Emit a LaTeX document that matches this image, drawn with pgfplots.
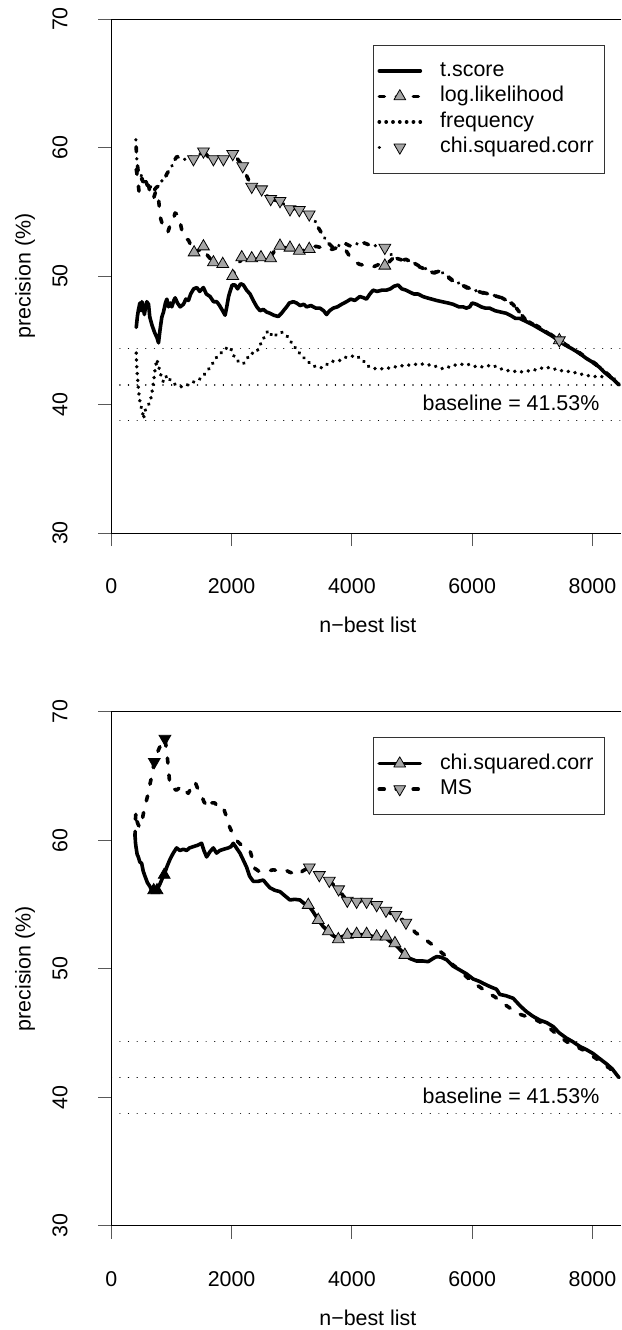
\documentclass[border=0pt]{standalone}
\usepackage{fontspec}
\setmainfont{Liberation Sans}
\usepackage{graphicx}
\usepackage{pgfplots}
\pgfplotsset{compat=1.18}
\definecolor{tri}{RGB}{166,166,166}
\newcommand\fsz{\fontsize{10.7}{12.8}\selectfont}
\pgfplotsset{
  rpanel/.style={
    scale only axis, width=255pt, height=257pt, anchor=north west,
    xmin=0, xmax=8480, ymin=30, ymax=70,
    axis x line*=bottom, axis y line*=left,
    axis line style={-, line width=0.5pt},
    xtick={0,2000,4000,6000,8000}, ytick={30,40,50,60,70},
    tick align=outside, major tick length=6.5pt,
    tick style={line width=0.5pt, black!65},
    /pgf/number format/assume math mode=true,
    /pgf/number format/1000 sep={},
    scaled ticks=false,
    font=\fsz,
    xticklabel style={anchor=center, yshift=-20pt, inner sep=0pt, font=\fsz},
    yticklabel={\rotatebox{90}{\pgfmathprintnumber{\tick}}},
    yticklabel style={anchor=center, xshift=-19.15pt, inner sep=0pt, font=\fsz},
    xlabel={n−best list},
    ylabel={precision (\%)},
    xlabel style={at={(rel axis cs:0.503,-0.179)}, anchor=center, inner sep=0pt, font=\fsz},
    ylabel style={at={(rel axis cs:-0.169,0.5)}, anchor=center, inner sep=0pt, font=\fsz},
    legend cell align=left,
    legend image code/.code={\draw[mark repeat=2,mark phase=2,##1] plot coordinates {(0pt,0pt) (10.25pt,0pt) (20.5pt,0pt)};},
    legend style={at={(rel axis cs:0.513,0.95)}, anchor=north west, draw=black!80,
      line width=0.5pt, font=\fsz, inner xsep=2pt, inner ysep=7.9pt, row sep=2.85pt,
      column sep=9pt, nodes={inner sep=0pt, text height=7.7pt, text depth=2.2pt, text width=80pt}},
    after end axis/.code={\draw[line width=0.5pt] (rel axis cs:0,1) -- (rel axis cs:1,1);},
  },
  base/.style={black, line width=0.6pt, line cap=round, dash pattern=on 0.01pt off 4.3pt},
  tsc/.style={black, line width=1.8pt, line join=round, line cap=round},
  llk/.style={black, line width=1.8pt, line join=round, line cap=round, dash pattern=on 2.5pt off 6pt},
  frq/.style={black, line width=1.9pt, line cap=round, dash pattern=on 0.01pt off 3.4pt},
  chi/.style={black, line width=1.8pt, line join=round, line cap=round, dash pattern=on 0.01pt off 3.5pt on 2.5pt off 3.5pt},
  upm/.style={only marks, mark=triangle*, mark size=3.4pt, mark options={solid, fill=tri, draw=black, line width=0.4pt}},
  dnm/.style={only marks, mark=triangle*, mark size=3.4pt, mark options={solid, rotate=180, fill=tri, draw=black, line width=0.4pt}},
}
\begin{document}
\begin{tikzpicture}
\path[use as bounding box] (0,0) rectangle (311pt,-665pt);

% ---------------- top panel ----------------
\begin{axis}[rpanel, at={(55.65pt,-9.5pt)}]
\addlegendimage{tsc}\addlegendentry{t.score}
\addlegendimage{llk, mark=triangle*, mark size=3.4pt, mark options={solid, fill=tri, draw=black, line width=0.4pt}}\addlegendentry{log.likelihood}
\addlegendimage{frq}\addlegendentry{frequency}
\addlegendimage{chi, dash pattern=on 0.01pt off 30pt, mark=triangle*, mark size=3.4pt, mark options={solid, rotate=180, fill=tri, draw=black, line width=0.4pt}}\addlegendentry{chi.squared.corr}

\addplot[base, forget plot] coordinates {(0,44.35) (8480,44.35)};
\addplot[base, line width=0.8pt, forget plot] coordinates {(0,41.53) (8480,41.53)};
\addplot[base, forget plot] coordinates {(0,38.75) (8480,38.75)};

% frequency
\addplot[frq, forget plot] coordinates {
(415,44.0) (420,43.2) (426,42.7) (440,41.9) (453,41.1) (467,40.5) (481,40.1) (495,39.8)
(509,39.7) (522,39.3) (536,38.9) (560,39.5) (592,39.8) (620,40.0) (647,40.2) (675,40.9)
(702,41.75) (730,42.8) (758,43.5) (785,43.0) (813,42.5) (840,42.0) (868,41.75) (896,42.0)
(924,42.27) (965,42.0) (1006,41.75) (1050,41.6) (1090,41.5) (1145,41.4) (1200,41.36)
(1255,41.5) (1311,41.63) (1390,41.8) (1477,42.0) (1560,42.4) (1643,42.9) (1700,43.3)
(1754,43.7) (1820,44.0) (1892,44.34) (1975,44.47) (2020,44.0) (2058,43.56) (2130,43.3)
(2196,43.17) (2250,43.5) (2307,43.95) (2360,44.0) (2418,44.07) (2470,44.6) (2528,45.1)
(2570,45.5) (2611,45.76) (2650,45.5) (2694,45.24) (2760,45.5) (2833,45.63) (2870,45.5)
(2916,45.37) (2970,45.0) (3026,44.6) (3080,44.3) (3137,43.95) (3190,43.7) (3247,43.43)
(3330,43.1) (3413,42.9) (3470,42.85) (3524,42.9) (3580,43.1) (3635,43.3) (3720,43.4)
(3801,43.43) (3860,43.6) (3911,43.7) (3990,43.75) (4078,43.8) (4130,43.6) (4188,43.43)
(4240,43.1) (4299,42.9) (4380,42.8) (4465,42.78) (4570,42.8) (4686,42.9) (4800,43.0)
(4907,43.05) (5020,43.1) (5129,43.17) (5240,43.1) (5350,43.05) (5430,42.9) (5516,42.78)
(5600,42.9) (5682,43.05) (5790,43.1) (5903,43.17) (6010,43.0) (6125,42.9) (6240,43.0)
(6346,43.05) (6460,42.8) (6567,42.65) (6680,42.6) (6789,42.52) (6900,42.6) (7010,42.65)
(7120,42.8) (7231,42.9) (7340,42.8) (7453,42.65) (7560,42.6) (7674,42.52) (7780,42.4)
(7895,42.27) (8000,42.2) (8117,42.14) (8200,42.2) (8283,42.27) (8360,42.0) (8440,41.6)};

% t.score
\addplot[tsc, forget plot] coordinates {
(415,46.0) (435,46.9) (453,47.4) (475,47.9) (495,47.3) (509,48.0) (530,47.6) (550,47.0)
(564,47.4) (590,48.0) (619,47.8) (640,46.8) (675,46.2) (720,45.6) (760,45.2) (785,44.8)
(810,45.8) (840,46.8) (868,47.2) (900,47.9) (924,48.2) (950,47.6) (980,47.9) (1006,47.6)
(1040,48.1) (1062,48.3) (1100,47.9) (1145,47.6) (1200,47.8) (1240,48.2) (1283,48.1)
(1320,48.6) (1370,49.0) (1422,49.1) (1470,48.8) (1532,49.1) (1580,48.6) (1643,48.4)
(1700,48.0) (1754,48.0) (1800,47.7) (1850,47.3) (1892,46.95) (1920,47.6) (1950,48.4)
(1975,48.8) (2010,49.3) (2058,49.3) (2100,49.0) (2150,49.4) (2196,49.3) (2250,48.9)
(2307,48.6) (2360,48.1) (2420,47.6) (2473,47.3) (2530,47.4) (2580,47.2) (2639,47.1)
(2700,46.95) (2777,46.85) (2830,47.1) (2880,47.4) (2916,47.6) (2960,47.9) (3026,48.0)
(3080,47.9) (3140,47.7) (3200,47.8) (3247,47.6) (3320,47.7) (3400,47.5) (3469,47.5)
(3530,47.3) (3579,47.0) (3630,47.3) (3690,47.5) (3760,47.6) (3830,47.8) (3911,48.0)
(3980,48.2) (4050,48.1) (4132,48.4) (4200,48.3) (4243,48.2) (4300,48.6) (4354,48.9)
(4420,48.8) (4500,48.9) (4575,48.9) (4640,49.0) (4700,49.2) (4769,49.3) (4830,49.0)
(4900,48.9) (4963,48.75) (5030,48.6) (5100,48.6) (5184,48.4) (5250,48.3) (5330,48.2)
(5406,48.1) (5500,48.0) (5600,47.9) (5682,47.8) (5780,47.6) (5850,47.6) (5903,47.5)
(5960,47.6) (6000,47.9) (6070,47.8) (6150,47.6) (6220,47.5) (6291,47.5) (6380,47.3)
(6470,47.2) (6567,47.1) (6650,46.9) (6720,46.7) (6789,46.7) (6880,46.5) (7010,46.2)
(7120,45.9) (7231,45.6) (7340,45.3) (7453,44.9) (7560,44.6) (7674,44.3) (7780,44.0)
(7895,43.6) (8000,43.3) (8117,42.9) (8200,42.5) (8283,42.2) (8360,41.9) (8440,41.53)};

% log.likelihood
\addplot[llk, forget plot] coordinates {
(415,58.3) (440,57.5) (460,56.6) (480,57.3) (510,57.6) (540,57.1) (580,57.4) (620,57.0)
(660,56.2) (700,56.0) (740,56.6) (780,56.3) (813,54.6) (850,54.0) (900,53.7) (940,53.4)
(980,54.0) (1020,54.2) (1060,54.9) (1100,54.8) (1140,54.3) (1180,53.4) (1228,52.9)
(1283,52.8) (1330,52.3) (1377,51.8) (1450,52.0) (1532,52.2) (1600,51.6) (1698,51.05)
(1780,50.9) (1853,50.9) (1940,50.3) (2019,50.0) (2080,50.8) (2169,51.3) (2250,51.4)
(2335,51.3) (2410,51.3) (2489,51.4) (2570,51.5) (2650,51.5) (2720,52.0) (2805,52.3)
(2890,52.2) (2971,52.1) (3050,51.8) (3126,51.9) (3210,52.0) (3291,52.1) (3350,52.3)
(3413,52.3) (3500,52.2) (3600,52.0) (3690,52.1) (3800,52.3) (3900,52.0) (3967,51.5)
(4050,51.1) (4133,50.9) (4250,50.8) (4350,50.7) (4450,50.9) (4548,50.8) (4620,51.1)
(4686,51.4) (4760,51.3) (4830,51.2) (4900,51.3) (5018,51.0) (5129,50.7) (5240,50.5)
(5350,50.2) (5460,50.4) (5570,50.0) (5682,49.6) (5800,49.4) (5903,49.1) (6000,48.9)
(6100,48.8) (6235,48.6) (6350,48.5) (6457,48.35) (6570,48.1) (6678,47.8) (6761,47.3)
(6816,47.0) (6880,46.65) (7010,46.3) (7120,46.0) (7231,45.7) (7340,45.35) (7453,45.0)
(7560,44.65) (7674,44.35) (7780,44.05) (7895,43.65) (8000,43.35) (8117,42.95)
(8200,42.6) (8283,42.25) (8360,41.95) (8440,41.53)};

% chi.squared.corr
\addplot[chi, forget plot] coordinates {
(409,60.6) (420,59.3) (426,59.0) (450,58.0) (481,58.0) (510,57.7) (536,57.5) (580,57.3)
(620,56.8) (647,57.0) (700,56.6) (750,56.9) (785,57.0) (830,57.4) (868,57.4) (930,58.0)
(1006,58.55) (1050,59.0) (1090,59.3) (1170,59.1) (1256,59.07) (1310,59.3) (1366,59.1)
(1450,59.4) (1532,59.7) (1610,59.3) (1698,59.1) (1780,59.0) (1864,59.1) (1940,59.3)
(2019,59.5) (2100,59.1) (2185,58.55) (2260,57.7) (2335,56.95) (2420,56.9) (2500,56.75)
(2580,56.3) (2650,56.0) (2730,55.9) (2805,55.84) (2890,55.5) (2971,55.2) (3050,55.2)
(3126,55.14) (3210,55.0) (3291,54.8) (3386,54.3) (3450,53.7) (3524,53.13) (3600,52.6)
(3690,52.2) (3800,52.4) (3900,52.5) (3967,52.35) (4080,52.5) (4188,52.6) (4300,52.4)
(4410,52.35) (4480,52.3) (4548,52.2) (4620,51.8) (4700,51.5) (4760,51.35) (4830,51.25)
(4900,51.3) (5018,51.05) (5129,50.75) (5240,50.55) (5350,50.25) (5460,50.4) (5570,50.05)
(5682,49.65) (5800,49.4) (5903,49.15) (6000,48.95) (6100,48.8) (6235,48.65) (6350,48.5)
(6457,48.4) (6570,48.1) (6678,47.85) (6761,47.35) (6816,47.0) (6880,46.6) (7010,46.25)
(7120,45.95) (7231,45.65) (7340,45.3) (7453,44.95) (7560,44.6) (7674,44.3) (7780,44.0)
(7895,43.6) (8000,43.3) (8117,42.9) (8200,42.55) (8283,42.2) (8360,41.9) (8440,41.53)};

\addplot[upm, forget plot] coordinates {
(1377,51.83) (1532,52.3) (1698,51.06) (1853,50.93) (2019,50.0) (2169,51.45) (2335,51.37)
(2489,51.45) (2650,51.37) (2805,52.35) (2971,52.2) (3126,51.96) (3291,52.1) (4548,50.8)
(7450,45.0)};
\addplot[dnm, forget plot] coordinates {
(1366,59.1) (1532,59.7) (1698,59.1) (1864,59.1) (2019,59.5) (2185,58.55) (2335,56.95)
(2500,56.75) (2650,56.0) (2805,55.84) (2971,55.2) (3126,55.14) (3291,54.8) (4548,52.2)
(7450,45.0)};

\node[anchor=east, inner sep=0pt, font=\fsz] at (axis cs:8122,40.1) {baseline = 41.53\%};
\end{axis}

% ---------------- bottom panel ----------------
\begin{axis}[rpanel, at={(55.65pt,-355.85pt)}]
\addlegendimage{tsc, mark=triangle*, mark size=3.4pt, mark options={solid, fill=tri, draw=black, line width=0.4pt}}\addlegendentry{chi.squared.corr}
\addlegendimage{llk, mark=triangle*, mark size=3.4pt, mark options={solid, rotate=180, fill=tri, draw=black, line width=0.4pt}}\addlegendentry{MS}

\addplot[base, forget plot] coordinates {(0,44.35) (8480,44.35)};
\addplot[base, line width=0.8pt, forget plot] coordinates {(0,41.53) (8480,41.53)};
\addplot[base, forget plot] coordinates {(0,38.75) (8480,38.75)};

% chi.squared.corr
\addplot[tsc, forget plot] coordinates {
(394,60.5) (402,59.8) (410,59.5) (430,58.9) (449,58.7) (475,58.3) (505,58.2) (530,57.6)
(560,57.2) (600,56.7) (643,56.4) (670,56.1) (698,56.1) (726,56.1) (754,56.1) (800,56.5)
(837,56.9) (870,57.3) (892,57.5) (930,58.0) (975,58.5) (1030,59.0) (1086,59.4) (1140,59.2)
(1200,59.3) (1252,59.2) (1300,59.4) (1363,59.5) (1430,59.6) (1502,59.76) (1540,59.2)
(1585,58.7) (1640,59.1) (1696,59.4) (1750,59.0) (1806,59.2) (1870,59.3) (1945,59.4)
(1990,59.5) (2028,59.76) (2080,59.4) (2139,59.0) (2200,58.4) (2250,57.9) (2300,57.2)
(2360,56.8) (2440,56.8) (2527,56.9) (2580,56.6) (2637,56.3) (2720,56.1) (2804,56.0)
(2880,55.7) (2970,55.35) (3050,55.4) (3136,55.35) (3200,55.1) (3275,54.96) (3360,54.4)
(3441,53.79) (3520,53.3) (3607,52.9) (3680,52.6) (3757,52.37) (3840,52.5) (3912,52.62)
(4000,52.65) (4078,52.65) (4160,52.65) (4244,52.62) (4320,52.55) (4399,52.4) (4480,52.4)
(4565,52.4) (4640,52.1) (4715,51.9) (4800,51.5) (4881,51.1) (4960,50.8) (5075,50.6)
(5180,50.6) (5269,50.55) (5352,50.8) (5407,50.94) (5480,50.9) (5574,50.7) (5684,50.2)
(5795,49.9) (5906,49.6) (6017,49.2) (6128,49.0) (6183,48.86) (6300,48.6) (6405,48.4)
(6460,48.0) (6560,47.9) (6682,47.7) (6800,47.1) (6903,46.66) (7010,46.3) (7125,46.0)
(7240,45.8) (7346,45.5) (7450,45.0) (7568,44.6) (7680,44.3) (7790,43.95) (7900,43.7)
(8011,43.4) (8120,43.0) (8233,42.6) (8330,42.2) (8440,41.53)};

% MS
\addplot[llk, forget plot] coordinates {
(394,60.3) (400,61.5) (410,62.2) (421,61.6) (440,61.3) (470,61.0) (505,61.3) (530,62.0)
(560,62.6) (590,63.2) (615,63.65) (640,64.3) (671,64.95) (695,65.6) (715,66.1) (750,66.6)
(782,67.0) (820,67.4) (860,67.7) (892,67.9) (920,67.0) (948,65.7) (975,64.2) (1030,64.0)
(1086,63.9) (1140,64.1) (1197,64.2) (1240,63.8) (1280,63.65) (1340,64.2) (1391,64.55)
(1430,64.1) (1474,63.8) (1540,63.0) (1613,62.5) (1670,62.9) (1723,62.9) (1780,62.5)
(1834,62.6) (1880,62.3) (1917,61.8) (1970,61.0) (2028,60.4) (2100,59.9) (2167,59.6)
(2240,59.4) (2305,59.2) (2350,58.5) (2388,57.8) (2450,57.6) (2527,57.55) (2610,57.6)
(2693,57.7) (2790,57.6) (2887,57.7) (2970,57.5) (3053,57.4) (3120,57.3) (3180,57.6)
(3293,57.89) (3380,57.6) (3459,57.29) (3540,57.0) (3625,56.85) (3700,56.5) (3780,56.18)
(3850,55.7) (3924,55.3) (4000,55.2) (4079,55.22) (4160,55.2) (4245,55.22) (4330,55.1)
(4412,54.96) (4490,54.7) (4567,54.52) (4650,54.3) (4733,54.18) (4820,53.9) (4899,53.59)
(4980,53.2) (5060,52.8) (5160,52.5) (5270,52.1) (5381,51.72) (5480,51.3) (5574,50.94)
(5680,50.3) (5790,49.9) (5900,49.4) (6017,48.9) (6120,48.6) (6238,48.2) (6380,47.8)
(6515,47.3) (6640,46.9) (6765,46.5) (6890,46.3) (7014,46.14) (7150,45.8) (7291,45.36)
(7430,44.8) (7568,44.33) (7700,44.0) (7845,43.68) (7970,43.3) (8094,42.9) (8200,42.5)
(8288,42.25) (8360,41.9) (8440,41.53)};

\addplot[upm, forget plot] coordinates {
(3275,54.96) (3441,53.79) (3608,52.9) (3775,52.29) (3924,52.63) (4079,52.7) (4245,52.7)
(4412,52.5) (4567,52.5) (4716,51.98) (4881,51.07)};
\addplot[upm, mark options={solid, fill=black, draw=black}, forget plot] coordinates {
(705,56.1) (760,56.1) (880,57.3)};
\addplot[dnm, forget plot] coordinates {
(3293,57.89) (3459,57.29) (3625,56.85) (3780,56.18) (3924,55.3) (4079,55.22) (4245,55.22)
(4412,54.96) (4567,54.52) (4733,54.18) (4899,53.59)};
\addplot[dnm, mark options={solid, rotate=180, fill=black, draw=black}, forget plot] coordinates {
(715,66.1) (892,67.9)};

\node[anchor=east, inner sep=0pt, font=\fsz] at (axis cs:8122,40.1) {baseline = 41.53\%};
\end{axis}
\end{tikzpicture}
\end{document}
